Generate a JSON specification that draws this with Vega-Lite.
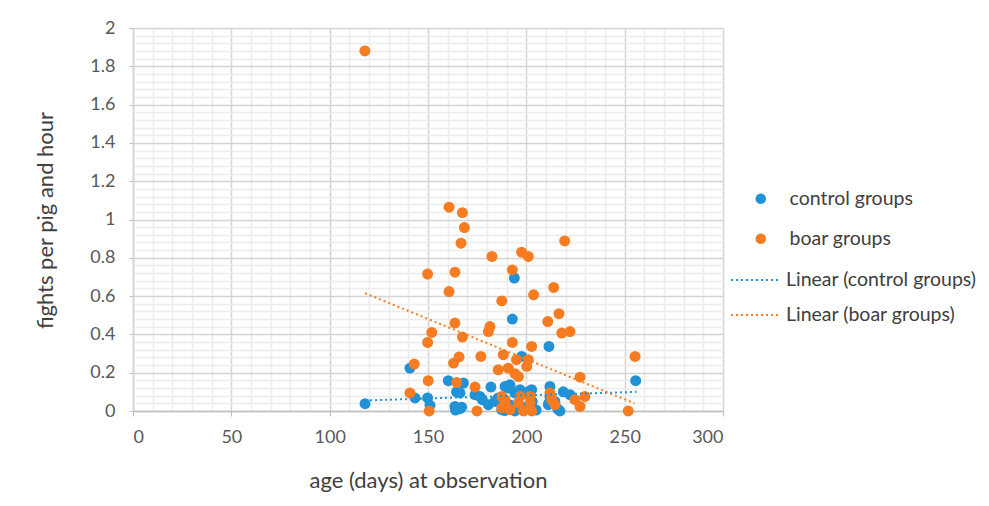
{
  "$schema": "https://vega.github.io/schema/vega-lite/v6.json",
  "width": 590,
  "height": 383,
  "autosize": {"type": "none"},
  "padding": {"left": 133, "top": 28, "right": 266, "bottom": 95},
  "background": "white",
  "config": {
    "view": {"stroke": null},
    "font": "Lato",
    "axis": {"labelFont": "Lato", "titleFont": "Lato", "labelColor": "#595959", "titleColor": "#404040", "labelFontSize": 18, "titleFontSize": 22, "titleFontWeight": "normal"},
    "legend": {"labelFont": "Lato", "labelFontSize": 19.5, "labelColor": "#404040", "labelLimit": 300, "padding": 0}
  },
  "resolve": {"scale": {"color": "independent"}, "legend": {"color": "independent"}},
  "datasets": {
    "pts": [
      {"series": "control groups", "age": 118, "f": 0.038},
      {"series": "control groups", "age": 140.8, "f": 0.224},
      {"series": "control groups", "age": 143.4, "f": 0.068},
      {"series": "control groups", "age": 149.8, "f": 0.068},
      {"series": "control groups", "age": 151, "f": 0.03},
      {"series": "control groups", "age": 160.3, "f": 0.158},
      {"series": "control groups", "age": 166.3, "f": 0.094},
      {"series": "control groups", "age": 164.5, "f": 0.1},
      {"series": "control groups", "age": 168, "f": 0.146},
      {"series": "control groups", "age": 163.7, "f": 0.024},
      {"series": "control groups", "age": 166.3, "f": 0.012},
      {"series": "control groups", "age": 167.1, "f": 0.02},
      {"series": "control groups", "age": 164, "f": 0.005},
      {"series": "control groups", "age": 173.9, "f": 0.085},
      {"series": "control groups", "age": 176.4, "f": 0.076},
      {"series": "control groups", "age": 177.6, "f": 0.059},
      {"series": "control groups", "age": 180.7, "f": 0.033},
      {"series": "control groups", "age": 182, "f": 0.125},
      {"series": "control groups", "age": 184, "f": 0.05},
      {"series": "control groups", "age": 185.7, "f": 0.068},
      {"series": "control groups", "age": 187.5, "f": 0.007},
      {"series": "control groups", "age": 193.9, "f": 0.694},
      {"series": "control groups", "age": 192.9, "f": 0.48},
      {"series": "control groups", "age": 211.5, "f": 0.337},
      {"series": "control groups", "age": 197.6, "f": 0.285},
      {"series": "control groups", "age": 189.2, "f": 0.128},
      {"series": "control groups", "age": 191.7, "f": 0.137},
      {"series": "control groups", "age": 190.8, "f": 0.12},
      {"series": "control groups", "age": 194.2, "f": 0.094},
      {"series": "control groups", "age": 196.8, "f": 0.111},
      {"series": "control groups", "age": 201, "f": 0.1},
      {"series": "control groups", "age": 202.7, "f": 0.111},
      {"series": "control groups", "age": 189, "f": 0.002},
      {"series": "control groups", "age": 190, "f": 0.024},
      {"series": "control groups", "age": 192, "f": 0.03},
      {"series": "control groups", "age": 194.2, "f": 0},
      {"series": "control groups", "age": 199, "f": 0.02},
      {"series": "control groups", "age": 203, "f": 0.05},
      {"series": "control groups", "age": 205, "f": 0.005},
      {"series": "control groups", "age": 212, "f": 0.128},
      {"series": "control groups", "age": 212, "f": 0.076},
      {"series": "control groups", "age": 211.5, "f": 0.042},
      {"series": "control groups", "age": 214.5, "f": 0.05},
      {"series": "control groups", "age": 211.2, "f": 0.033},
      {"series": "control groups", "age": 216, "f": 0.01},
      {"series": "control groups", "age": 217.1, "f": 0},
      {"series": "control groups", "age": 218.8, "f": 0.1},
      {"series": "control groups", "age": 222.2, "f": 0.085},
      {"series": "control groups", "age": 255.6, "f": 0.158},
      {"series": "boar groups", "age": 117.9, "f": 1.88},
      {"series": "boar groups", "age": 160.7, "f": 1.064},
      {"series": "boar groups", "age": 167.5, "f": 1.036},
      {"series": "boar groups", "age": 168.5, "f": 0.958},
      {"series": "boar groups", "age": 166.8, "f": 0.876},
      {"series": "boar groups", "age": 182.5, "f": 0.807},
      {"series": "boar groups", "age": 149.8, "f": 0.715},
      {"series": "boar groups", "age": 163.7, "f": 0.725},
      {"series": "boar groups", "age": 160.7, "f": 0.624},
      {"series": "boar groups", "age": 187.5, "f": 0.575},
      {"series": "boar groups", "age": 219.5, "f": 0.888},
      {"series": "boar groups", "age": 197.6, "f": 0.829},
      {"series": "boar groups", "age": 201, "f": 0.807},
      {"series": "boar groups", "age": 192.9, "f": 0.737},
      {"series": "boar groups", "age": 213.9, "f": 0.645},
      {"series": "boar groups", "age": 203.7, "f": 0.607},
      {"series": "boar groups", "age": 163.7, "f": 0.459},
      {"series": "boar groups", "age": 151.9, "f": 0.41},
      {"series": "boar groups", "age": 149.8, "f": 0.358},
      {"series": "boar groups", "age": 167.5, "f": 0.386},
      {"series": "boar groups", "age": 181.5, "f": 0.441},
      {"series": "boar groups", "age": 180.7, "f": 0.415},
      {"series": "boar groups", "age": 165.8, "f": 0.282},
      {"series": "boar groups", "age": 163, "f": 0.25},
      {"series": "boar groups", "age": 176.9, "f": 0.285},
      {"series": "boar groups", "age": 188.3, "f": 0.294},
      {"series": "boar groups", "age": 185.7, "f": 0.215},
      {"series": "boar groups", "age": 143, "f": 0.245},
      {"series": "boar groups", "age": 150.1, "f": 0.158},
      {"series": "boar groups", "age": 164.6, "f": 0.149},
      {"series": "boar groups", "age": 173.9, "f": 0.125},
      {"series": "boar groups", "age": 140.8, "f": 0.094},
      {"series": "boar groups", "age": 150.6, "f": 0},
      {"series": "boar groups", "age": 174.9, "f": 0},
      {"series": "boar groups", "age": 189.2, "f": 0.059},
      {"series": "boar groups", "age": 188.3, "f": 0.024},
      {"series": "boar groups", "age": 210.9, "f": 0.467},
      {"series": "boar groups", "age": 216.6, "f": 0.508},
      {"series": "boar groups", "age": 218, "f": 0.407},
      {"series": "boar groups", "age": 222.2, "f": 0.415},
      {"series": "boar groups", "age": 192.9, "f": 0.358},
      {"series": "boar groups", "age": 202.7, "f": 0.337},
      {"series": "boar groups", "age": 255.3, "f": 0.285},
      {"series": "boar groups", "age": 227.3, "f": 0.177},
      {"series": "boar groups", "age": 190.8, "f": 0.224},
      {"series": "boar groups", "age": 195, "f": 0.268},
      {"series": "boar groups", "age": 201, "f": 0.268},
      {"series": "boar groups", "age": 200.2, "f": 0.233},
      {"series": "boar groups", "age": 196, "f": 0.18},
      {"series": "boar groups", "age": 194.2, "f": 0.195},
      {"series": "boar groups", "age": 187.5, "f": 0.076},
      {"series": "boar groups", "age": 189.2, "f": 0.042},
      {"series": "boar groups", "age": 187.5, "f": 0.016},
      {"series": "boar groups", "age": 191.7, "f": 0.007},
      {"series": "boar groups", "age": 196.8, "f": 0.076},
      {"series": "boar groups", "age": 195.9, "f": 0.042},
      {"series": "boar groups", "age": 201.9, "f": 0.076},
      {"series": "boar groups", "age": 201.9, "f": 0.042},
      {"series": "boar groups", "age": 198.5, "f": 0},
      {"series": "boar groups", "age": 202.7, "f": 0},
      {"series": "boar groups", "age": 212, "f": 0.094},
      {"series": "boar groups", "age": 212.9, "f": 0.059},
      {"series": "boar groups", "age": 214.6, "f": 0.033},
      {"series": "boar groups", "age": 224.7, "f": 0.059},
      {"series": "boar groups", "age": 227.3, "f": 0.024},
      {"series": "boar groups", "age": 229.8, "f": 0.076},
      {"series": "boar groups", "age": 251.8, "f": 0}
    ],
    "trend": [
      {"series": "Linear (control groups)", "age": 118, "f": 0.055},
      {"series": "Linear (control groups)", "age": 256, "f": 0.1},
      {"series": "Linear (boar groups)", "age": 118, "f": 0.615},
      {"series": "Linear (boar groups)", "age": 255, "f": 0.04}
    ]
  },
  "encoding": {
    "x": {
      "field": "age", "type": "quantitative",
      "scale": {"domain": [0, 300], "nice": false, "zero": false},
      "axis": {
        "title": "age (days) at observation",
        "values": [0,10,20,30,40,50,60,70,80,90,100,110,120,130,140,150,160,170,180,190,200,210,220,230,240,250,260,270,280,290,300],
        "labelExpr": "datum.value % 50 === 0 ? datum.label : ''",
        "grid": true,
        "gridColor": {"condition": {"test": "datum.value % 50 === 0", "value": "#d4d4d4"}, "value": "#ececec"},
        "gridWidth": 1.5,
        "tickColor": "#bfbfbf",
        "tickOpacity": {"condition": {"test": "datum.value % 50 === 0", "value": 1}, "value": 0},
        "tickSize": 5,
        "labelPadding": 12,
        "domainColor": "#bfbfbf",
        "domainWidth": 1.5,
        "titleX": 295,
        "titleY": 69,
        "titleBaseline": "middle",
        "titleAlign": "center"
      }
    },
    "y": {
      "field": "f", "type": "quantitative",
      "scale": {"domain": [0, 2], "nice": false},
      "axis": {
        "title": "fights per pig and hour",
        "values": [0,0.04,0.08,0.12,0.16,0.2,0.24,0.28,0.32,0.36,0.4,0.44,0.48,0.52,0.56,0.6,0.64,0.68,0.72,0.76,0.8,0.84,0.88,0.92,0.96,1,1.04,1.08,1.12,1.16,1.2,1.24,1.28,1.32,1.36,1.4,1.44,1.48,1.52,1.56,1.6,1.64,1.68,1.72,1.76,1.8,1.84,1.88,1.92,1.96,2],
        "labelExpr": "abs(datum.value*5 - round(datum.value*5)) < 0.001 ? format(datum.value, '~g') : ''",
        "grid": true,
        "gridColor": {"condition": {"test": "abs(datum.value*5 - round(datum.value*5)) < 0.001", "value": "#d4d4d4"}, "value": "#ececec"},
        "gridWidth": 1.5,
        "tickColor": "#bfbfbf",
        "tickOpacity": {"condition": {"test": "abs(datum.value*5 - round(datum.value*5)) < 0.001", "value": 1}, "value": 0},
        "tickSize": 4,
        "labelPadding": 14,
        "domainColor": "#d4d4d4",
        "domainWidth": 1.5,
        "titleX": -88,
        "titleY": 192,
        "titleAngle": -90,
        "titleBaseline": "middle",
        "titleAlign": "center"
      }
    }
  },
  "layer": [
    {
      "data": {"name": "pts"},
      "mark": {"type": "circle", "size": 120, "opacity": 1},
      "encoding": {
        "color": {
          "field": "series", "type": "nominal",
          "scale": {"domain": ["control groups", "boar groups"], "range": ["#1f93d5", "#f77b20"]},
          "legend": {
            "title": null,
            "orient": "none",
            "legendX": 618,
            "legendY": 161,
            "symbolType": "circle",
            "symbolSize": 110,
            "symbolOpacity": 1,
            "rowPadding": 19,
            "labelOffset": 19
          }
        }
      }
    },
    {
      "data": {"name": "trend"},
      "mark": {"type": "line", "strokeWidth": 2, "strokeDash": [2, 3]},
      "encoding": {
        "color": {
          "field": "series", "type": "nominal",
          "scale": {"domain": ["Linear (control groups)", "Linear (boar groups)"], "range": ["#1f93d5", "#f77b20"]},
          "legend": {
            "title": null,
            "orient": "none",
            "legendX": 597,
            "legendY": 227,
            "symbolType": "stroke",
            "symbolSize": 2304,
            "symbolStrokeWidth": 2,
            "symbolDash": [2, 3],
            "rowPadding": -2,
            "labelOffset": 6
          }
        }
      }
    }
  ]
}
